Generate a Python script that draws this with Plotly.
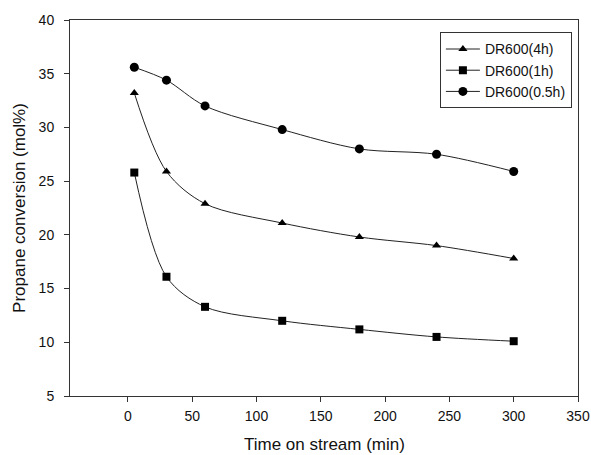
import plotly.graph_objects as go

time_min = [5, 30, 60, 120, 180, 240, 300]
dr600_4h = [33.2, 25.9, 22.9, 21.1, 19.8, 19.0, 17.8]
dr600_1h = [25.8, 16.1, 13.3, 12.0, 11.2, 10.5, 10.1]
dr600_05h = [35.6, 34.4, 32.0, 29.8, 28.0, 27.5, 25.9]
series_names = ["DR600(4h)", "DR600(1h)", "DR600(0.5h)"]
x_ticks = [0, 50, 100, 150, 200, 250, 300, 350]
y_ticks = [5, 10, 15, 20, 25, 30, 35, 40]
x_title = "Time on stream (min)"
y_title = "Propane conversion (mol%)"

fig = go.Figure()
symbols = ["triangle-up", "square", "circle"]
sizes = [8, 8, 9]
for name, vals, sym, sz in zip(series_names, [dr600_4h, dr600_1h, dr600_05h], symbols, sizes):
    fig.add_trace(go.Scatter(
        x=time_min, y=vals, name=name, mode="lines+markers",
        line=dict(color="#222222", width=1, shape="spline", smoothing=0.9),
        marker=dict(symbol=sym, size=sz, color="black"),
    ))

axis_common = dict(
    showgrid=False, zeroline=False, showline=True, linecolor="#333333", linewidth=1,
    mirror=True, ticks="outside", ticklen=5, tickcolor="#333333", automargin=False,
    tickfont=dict(family="Liberation Sans, Arial", size=14, color="#111111"),
)
fig.update_layout(
    width=591, height=455,
    margin=dict(l=70, r=13, t=20, b=59),
    paper_bgcolor="white", plot_bgcolor="white",
    font=dict(family="Liberation Sans, Arial", size=14, color="#111111"),
    xaxis=dict(range=[-45, 350], tickvals=x_ticks, ticklabelstandoff=2, **axis_common),
    yaxis=dict(range=[5, 40], tickvals=y_ticks,
               title=dict(text=y_title, font=dict(size=17), standoff=8),
               ticklabelstandoff=7,
               **axis_common),
    legend=dict(x=0.988, y=0.967, xanchor="right", yanchor="top",
                bordercolor="#333333", borderwidth=1, bgcolor="white",
                font=dict(size=14), itemwidth=34, tracegroupgap=0),
    showlegend=True,
    annotations=[dict(text=x_title, xref="paper", yref="paper", x=0.5, y=0,
                      xanchor="center", yanchor="middle", yshift=-48,
                      showarrow=False, font=dict(size=17, color="#111111"))],
)
fig.write_html("out.html", config={"displayModeBar": False},
               post_script="document.body.style.margin='0';")
